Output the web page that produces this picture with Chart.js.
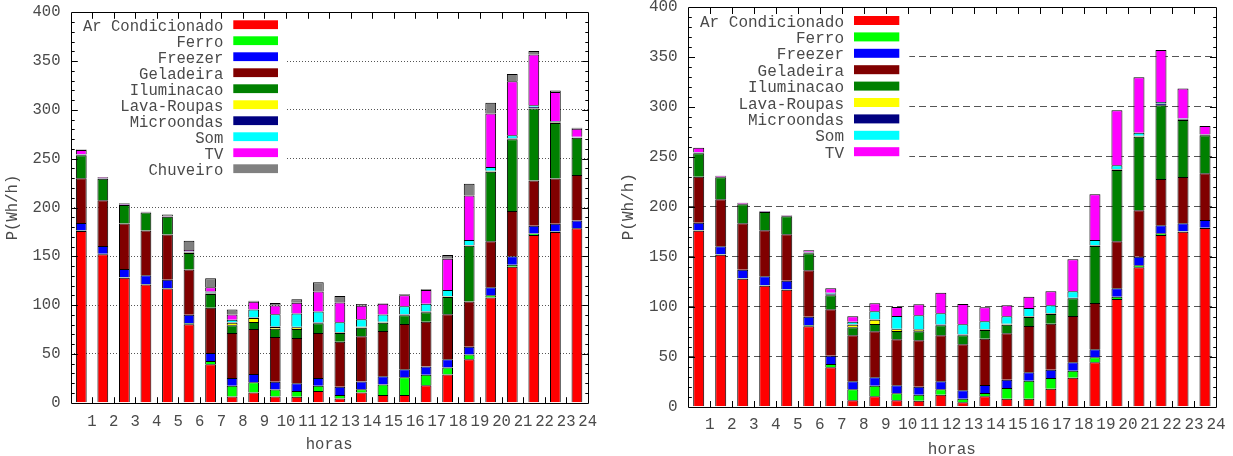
<!DOCTYPE html>
<html>
<head>
<meta charset="utf-8">
<title>Consumo por hora</title>
<script src="https://cdn.jsdelivr.net/npm/chart.js@4.4.0/dist/chart.umd.min.js"></script>
<style>
  html, body { margin: 0; padding: 0; background: #fff; }
  #wrap { position: relative; width: 1233px; height: 456px; }
  canvas { position: absolute; top: 0; }
  #chartLeft { left: 0; }
  #chartRight { left: 616px; }
</style>
</head>
<body>
<div id="wrap">
  <canvas id="chartLeft" width="616" height="456"></canvas>
  <canvas id="chartRight" width="617" height="456"></canvas>
</div>
<script>
// Consumo medio por aparelho, em Wh/h, para cada hora do dia
const horas = [1, 2, 3, 4, 5, 6, 7, 8, 9, 10, 11, 12, 13, 14, 15, 16, 17, 18, 19, 20, 21, 22, 23, 24];

const arCondicionado = [176, 152, 128, 121, 117, 80.5, 39.4, 6.4, 10.4, 6.4, 6, 12, 4.4, 10.4, 8, 8, 18, 29, 44.4, 107.7, 139.4, 171.7, 175, 178.7];
const ferro = [0.5, 0.5, 0.5, 0.5, 0.5, 1, 3.3, 11, 10.6, 7, 6, 5.4, 3.6, 3.3, 10.7, 18, 10.7, 7, 5, 2.3, 2, 1.7, 0.5, 0.3];
const freezer = [7.5, 8, 8.5, 9, 8.5, 8.5, 8.3, 8, 8.4, 8, 8, 8, 8.4, 8, 8.3, 8.4, 8.3, 8.4, 8, 8.4, 8.6, 8, 7.9, 7.7];
const geladeira = [46, 47, 46.5, 46, 46.4, 46.4, 46.4, 46, 46, 46, 46.4, 46, 46, 46.3, 46.4, 46.3, 46, 46.3, 46.3, 47, 46.4, 46.3, 46.3, 46.7];
const iluminacao = [23.5, 22, 19, 18.3, 18, 17, 14, 8, 7.3, 8.3, 9, 10, 9, 8.7, 8.6, 9, 9.7, 17.7, 57, 71.3, 73.6, 73.7, 57, 38];
const lavaRoupas = [0, 0, 0, 0, 0, 0.5, 0.5, 2.6, 4.2, 1.8, 1.8, 0.3, 0.5, 0.5, 0.4, 0.5, 0.5, 0.3, 0.5, 0.5, 0.5, 0.3, 0.3, 0.3];
const microondas = [0.5, 0.5, 0.5, 0.3, 0.5, 0.5, 1, 0.5, 0.5, 0.5, 0.5, 0.5, 0.5, 0.5, 0.5, 0.5, 0.5, 0.3, 0.5, 0.5, 0.5, 1.5, 0.6, 0.4];
const som = [0.5, 0, 0, 0, 0, 0.5, 1, 2.5, 8, 12.7, 13.7, 11.2, 10, 7.7, 7.5, 8, 7.7, 6.4, 5, 3.7, 3, 1.5, 0.7, 0.3];
const tv = [4.5, 1, 1, 0.5, 0.5, 1.5, 4.5, 5.4, 8, 9, 11, 20.6, 20.3, 14, 11, 11.3, 14, 32, 45.7, 55, 55.4, 52, 30, 8.3];
const chuveiro = [0.5, 0, 0.5, 0, 1.5, 9.6, 9, 5, 1, 2.5, 3.5, 9.4, 6.6, 1.7, 0.5, 1, 0.8, 4, 12, 11, 7.5, 3.7, 1.5, 1];

const yTicks = [0, 50, 100, 150, 200, 250, 300, 350, 400];

const textColor = '#4a4a4a';

// Series in stacking order (bottom to top)
const seriesBase = [
    { label: 'Ar Condicionado', values: arCondicionado, color: '#ff0000' },
    { label: 'Ferro', values: ferro, color: '#00ff00' },
    { label: 'Freezer', values: freezer, color: '#0000ff' },
    { label: 'Geladeira', values: geladeira, color: '#800000' },
    { label: 'Iluminacao', values: iluminacao, color: '#008000' },
    { label: 'Lava-Roupas', values: lavaRoupas, color: '#ffff00' },
    { label: 'Microondas', values: microondas, color: '#000080' },
    { label: 'Som', values: som, color: '#00ffff' },
    { label: 'TV', values: tv, color: '#ff00ff' }
];
const seriesComChuveiro = seriesBase.concat([{ label: 'Chuveiro', values: chuveiro, color: '#808080' }]);

// gnuplot-like frame, inward ticks and key drawn inside the plot
const gnuplotLook = {
    id: 'gnuplotLook',
    beforeDatasetsDraw(chart, args, o) {
        const { ctx, chartArea: a } = chart;
        const n = chart.data.datasets.length;
        ctx.save();
        ctx.fillStyle = '#fff';
        ctx.fillRect(a.left + 1, a.top + 1, o.key.clearRight - 1, o.key.top + (n - 0.5) * o.key.step);
        ctx.restore();
    },
    afterDatasetsDraw(chart, args, o) {
        const { ctx, chartArea: a, scales } = chart;
        const x = scales.x, y = scales.y;
        const k = o.key;
        const px = v => Math.round(v) + 0.5;

        ctx.save();

        // key
        ctx.font = o.font + 'px "Liberation Mono"';
        ctx.textAlign = 'right';
        ctx.textBaseline = 'alphabetic';
        chart.data.datasets.forEach((ds, i) => {
            const cy = a.top + k.top + i * k.step;
            ctx.fillStyle = textColor;
            ctx.fillText(ds.label, a.left + k.textRight, cy + o.font * 0.38);
            ctx.fillStyle = ds.backgroundColor;
            ctx.fillRect(a.left + k.swatchLeft, cy - k.swatchH / 2, k.swatchW, k.swatchH);
        });

        // frame
        const L = px(x.getPixelForValue(0)), R = px(x.getPixelForValue(24));
        const T = px(y.getPixelForValue(400)), B = px(y.getPixelForValue(0));
        ctx.strokeStyle = '#000';
        ctx.lineWidth = 1;
        ctx.beginPath();
        ctx.rect(L, T, R - L, B - T);

        // y ticks every 10, longer every 50, on both sides
        for (let v = 10; v < 400; v += 10) {
            const py = px(y.getPixelForValue(v));
            const len = v % 50 === 0 ? o.tick.major : o.tick.minor;
            ctx.moveTo(L, py); ctx.lineTo(L + len, py);
            ctx.moveTo(R, py); ctx.lineTo(R - len, py);
        }
        // x ticks on each hour, bottom and top
        for (let h = 1; h < 24; h++) {
            const pxh = px(x.getPixelForValue(h));
            ctx.moveTo(pxh, B); ctx.lineTo(pxh, B - o.tick.major);
            ctx.moveTo(pxh, T); ctx.lineTo(pxh, T + o.tick.major);
        }
        ctx.stroke();
        ctx.restore();
    }
};

function buildChart(canvasId, series, look) {
    const font = { family: '"Liberation Mono"', size: look.font, lineHeight: 1 };

    const datasets = series.map(s => ({
        label: s.label,
        data: s.values.map((v, i) => ({ x: horas[i] - 0.5, y: v })),
        backgroundColor: s.color,
        borderColor: '#000',
        borderWidth: { top: 1, right: 1, bottom: 0, left: 1 },
        borderSkipped: false,
        barPercentage: 0.5,
        categoryPercentage: 1
    }));

    return new Chart(document.getElementById(canvasId), {
        type: 'bar',
        data: { datasets: datasets },
        plugins: [gnuplotLook],
        options: {
            responsive: false,
            animation: false,
            devicePixelRatio: 1,
            layout: {
                padding: { left: 0, top: look.area.top, right: look.width - look.area.right, bottom: 0 }
            },
            plugins: {
                legend: { display: false },
                tooltip: { enabled: false },
                gnuplotLook: look
            },
            scales: {
                x: {
                    type: 'linear',
                    min: 0,
                    max: 24,
                    offset: false,
                    stacked: true,
                    grid: { display: false, drawTicks: false, offset: false },
                    border: { display: false },
                    ticks: {
                        stepSize: 1,
                        autoSkip: false,
                        maxRotation: 0,
                        padding: look.xTickPad,
                        color: textColor,
                        font: font,
                        callback: v => v === 0 ? '' : String(v)
                    },
                    title: {
                        display: true,
                        text: 'horas',
                        color: textColor,
                        font: font,
                        padding: { top: 0, bottom: look.xTitlePad }
                    },
                    afterFit: s => {
                        s.height = look.height - look.area.bottom;
                        s.paddingLeft = 0;
                        s.paddingRight = 0;
                    }
                },
                y: {
                    min: 0,
                    max: 400,
                    stacked: true,
                    afterBuildTicks: s => { s.ticks = yTicks.map(v => ({ value: v })); },
                    grid: {
                        drawTicks: false,
                        lineWidth: 1,
                        color: c => (c.tick && (c.tick.value === 0 || c.tick.value === 400)) ? 'rgba(0,0,0,0)' : '#555'
                    },
                    border: { display: false, dash: look.dash },
                    ticks: {
                        padding: 10,
                        color: textColor,
                        font: font
                    },
                    title: {
                        display: true,
                        text: 'P(Wh/h)',
                        color: textColor,
                        font: font,
                        padding: { top: look.yTitlePad, bottom: 0 }
                    },
                    afterFit: s => {
                        s.width = look.area.left;
                        s.paddingTop = 0;
                        s.paddingBottom = 0;
                    }
                }
            }
        }
    });
}

// left: with the shower, dotted grid
buildChart('chartLeft', seriesComChuveiro, {
    area: { left: 70.5, top: 12.3, right: 587.7, bottom: 402.7 },
    width: 616,
    height: 456,
    font: 15.6,
    dash: [1, 2],
    key: { top: 12.4, step: 16.0, textRight: 152.8, swatchLeft: 162.8, swatchW: 44.7, swatchH: 8.8, clearRight: 216.5 },
    tick: { major: 6.3, minor: 3.2 },
    xTickPad: 11,
    xTitlePad: 3,
    yTitlePad: 5
});

// right: without the shower, dashed grid
buildChart('chartRight', seriesBase, {
    area: { left: 71.7, top: 6.7, right: 600, bottom: 406.7 },
    width: 617,
    height: 456,
    font: 16,
    dash: [7, 4],
    key: { top: 13.8, step: 16.4, textRight: 156.3, swatchLeft: 166.3, swatchW: 45.3, swatchH: 9, clearRight: 221.6 },
    tick: { major: 6.5, minor: 3.3 },
    xTickPad: 10,
    xTitlePad: -2,
    yTitlePad: 5
});
</script>
</body>
</html>
